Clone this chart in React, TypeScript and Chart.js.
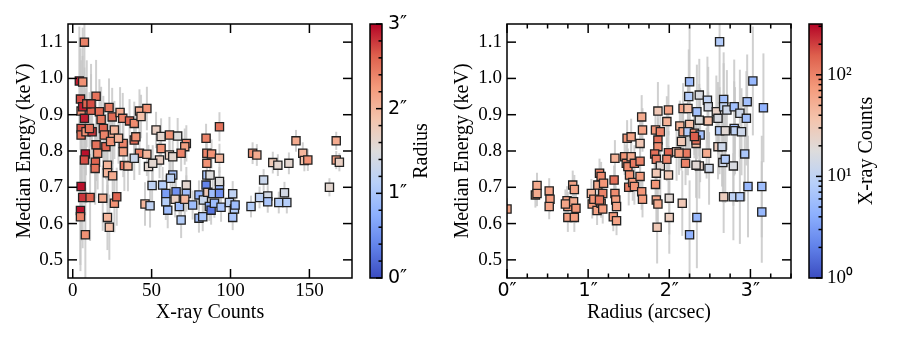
import React, { useEffect, useRef } from "react";
import { Chart, registerables } from "chart.js";

Chart.register(...registerables);
Chart.defaults.color = "#000";

const SERIF = "'Liberation Serif', 'Times New Roman', serif";
const SANS = "'DejaVu Sans', sans-serif";

// ---------- Left panel: X-ray counts vs median energy, coloured by radius ----------
const leftCounts = [
  7.4, 4.2, 6.3, 4.9, 5.3, 7.4, 14.8, 11.6, 16.9, 18, 23, 25, 30, 31.7, 36, 39, 42.3, 47, 43.3,
  5.3, 5.3, 8.4, 12.3, 10.6, 19.4, 20, 25.3, 26.4, 14.8, 21, 24, 32, 29, 39, 40,
  8, 7.4, 15.8, 14.4, 14.2, 22, 22, 25.3, 32, 32.7, 35, 42.3, 39, 47, 48,
  52.8, 56, 61.3, 66.5, 72, 71, 56, 61.3, 63.4, 55, 50.7, 68.7, 63.4, 50.3, 57, 62,
  59, 59, 60.2, 65.5, 64.9, 67.6, 72, 72, 71, 68.7, 76, 80, 80, 82.4, 82.8, 84.5, 85, 85.6, 87,
  84.5, 85, 88, 85, 93, 93, 88.7, 86.6, 87.7, 89.8, 93, 93, 93, 94,
  99.3, 101.4, 102.5, 101.4, 102.9, 113, 114, 116.7, 118.4, 121, 123.6, 123.6, 126.8, 130, 130.6,
  134.2, 135.7, 137, 141.5, 145.8, 146.8, 149, 162.7, 167, 167, 169,
  5.3, 6.3, 11, 4.9, 4.9, 8, 19, 22, 23.2, 26.4, 27.9, 45.8, 49, 6.3, 8.9, 11.6,
];
const leftEnergy = [
  1.1, 0.993, 0.99, 0.943, 0.91, 0.89, 0.951, 0.912, 0.908, 0.887, 0.92, 0.894, 0.906, 0.89, 0.883, 0.876, 0.91, 0.917, 0.895,
  0.862, 0.844, 0.853, 0.853, 0.862, 0.862, 0.844, 0.844, 0.858, 0.817, 0.812, 0.826, 0.821, 0.835, 0.83, 0.839,
  0.792, 0.775, 0.794, 0.769, 0.752, 0.761, 0.74, 0.732, 0.798, 0.76, 0.759, 0.794, 0.78, 0.791, 0.757,
  0.858, 0.84, 0.844, 0.841, 0.821, 0.812, 0.807, 0.789, 0.784, 0.775, 0.766, 0.794, 0.734, 0.705, 0.706, 0.725,
  0.683, 0.66, 0.637, 0.688, 0.667, 0.647, 0.706, 0.683, 0.667, 0.61, 0.651, 0.679, 0.615, 0.619, 0.665, 0.706, 0.734, 0.686, 0.734,
  0.835, 0.794, 0.792, 0.766, 0.867, 0.78, 0.683, 0.647, 0.637, 0.656, 0.706, 0.683, 0.716, 0.645,
  0.658, 0.682, 0.64, 0.617, 0.651, 0.647, 0.794, 0.789, 0.672, 0.72, 0.676, 0.66, 0.768, 0.761, 0.658,
  0.685, 0.658, 0.766, 0.828, 0.794, 0.774, 0.775, 0.7, 0.828, 0.775, 0.769,
  0.702, 0.672, 0.672, 0.636, 0.619, 0.569, 0.67, 0.617, 0.59, 0.656, 0.674, 0.654, 0.649, 0.922, 0.93, 0.93,
];
const leftRadius = [
  2.4, 2.9, 2.3, 2.7, 2.3, 2.9, 2.5, 2.6, 2.55, 2.45, 2.45, 2.55, 2.1, 2.4, 2.6, 2.35, 2.1, 2.3, 1.9,
  2.7, 2.5, 2.3, 2.8, 2.5, 2.6, 2.4, 2.1, 2.0, 2.5, 2.6, 2.3, 2.4, 2.0, 2.55, 2.3,
  2.95, 2.7, 2.3, 2.6, 2.5, 2.0, 2.0, 2.1, 2.2, 2.5, 2.05, 2.4, 1.3, 2.0, 1.6,
  1.7, 1.6, 2.3, 1.5, 2.4, 2.2, 2.3, 1.7, 1.6, 1.7, 1.6, 2.4, 1.0, 1.2, 1.1, 1.2,
  0.6, 1.1, 0.9, 0.5, 1.7, 0.9, 1.6, 0.9, 2.0, 1.1, 0.9, 0.8, 0.9, 1.0, 1.3, 0.4, 1.0, 1.8, 1.5,
  2.4, 2.4, 2.3, 2.3, 2.5, 2.0, 0.9, 0.7, 0.3, 0.9, 0.8, 0.5, 1.5, 1.0,
  1.2, 1.2, 1.1, 1.0, 0.9, 1.1, 2.3, 2.1, 1.2, 1.3, 1.4, 1.0, 1.8, 1.6, 1.1,
  1.4, 1.1, 1.6, 2.1, 2.0, 1.9, 2.3, 1.6, 2.1, 2.2, 1.7,
  2.95, 2.8, 2.6, 2.95, 2.4, 2.3, 2.1, 2.0, 1.9, 2.3, 2.6, 2.0, 1.2, 2.9, 2.6, 2.7,
];
const leftErr = [
  0.15, 0.15, 0.15, 0.14, 0.14, 0.14, 0.1, 0.1, 0.09, 0.09, 0.08, 0.08, 0.07, 0.07, 0.06, 0.06, 0.06, 0.06, 0.06,
  0.14, 0.14, 0.12, 0.1, 0.1, 0.09, 0.09, 0.08, 0.08, 0.1, 0.09, 0.08, 0.07, 0.07, 0.06, 0.06,
  0.12, 0.12, 0.1, 0.1, 0.1, 0.09, 0.09, 0.08, 0.07, 0.07, 0.07, 0.06, 0.06, 0.06, 0.06,
  0.05, 0.05, 0.05, 0.05, 0.05, 0.05, 0.05, 0.05, 0.05, 0.05, 0.05, 0.05, 0.05, 0.05, 0.05, 0.05,
  0.05, 0.05, 0.05, 0.05, 0.05, 0.05, 0.05, 0.05, 0.05, 0.05, 0.04, 0.04, 0.04, 0.04, 0.04, 0.04, 0.04, 0.04, 0.04,
  0.04, 0.04, 0.04, 0.04, 0.04, 0.04, 0.04, 0.04, 0.04, 0.04, 0.04, 0.04, 0.04, 0.04,
  0.035, 0.035, 0.035, 0.035, 0.035, 0.03, 0.03, 0.03, 0.03, 0.03, 0.03, 0.03, 0.03, 0.03, 0.03,
  0.03, 0.03, 0.03, 0.03, 0.03, 0.03, 0.03, 0.025, 0.025, 0.025, 0.025,
  0.15, 0.14, 0.12, 0.15, 0.15, 0.13, 0.09, 0.09, 0.09, 0.08, 0.08, 0.06, 0.06, 0.14, 0.12, 0.11,
];

// ---------- Right panel: radius vs median energy, coloured by X-ray counts ----------
const rightRadius = [
  0.0, 0.35, 0.37, 0.37, 0.52, 0.53, 0.52, 0.74, 0.75, 0.75, 0.81, 0.83, 0.82, 0.83, 0.85, 0.72,
  1.04, 1.05, 1.07, 1.12, 1.11, 1.14, 1.16, 1.18, 1.16, 1.18, 1.19, 1.14,
  1.33, 1.32, 1.33, 1.34, 1.35, 1.31, 1.35,
  1.48, 1.53, 1.45, 1.47, 1.49, 1.53, 1.57, 1.51, 1.5, 1.55, 1.57, 1.64, 1.64, 1.66, 1.67, 1.66, 1.67, 1.64,
  1.83, 1.86, 1.89, 1.86, 1.86, 1.82, 1.84, 1.89, 1.84, 1.83, 1.84, 1.86, 1.85,
  1.99, 1.97, 1.99, 1.97, 1.99, 2.0, 2.0, 2.09, 2.17, 2.23, 2.13, 2.17, 2.15, 2.21, 2.2, 2.25, 2.23, 2.24, 2.25,
  2.31, 2.33, 2.34, 2.37, 2.37, 2.38, 2.37, 2.33, 2.47, 2.48, 2.48, 2.46, 2.49,
  2.58, 2.6, 2.62, 2.6, 2.65, 2.62, 2.67, 2.67, 2.71, 2.69, 2.66, 2.69, 2.67,
  2.8, 2.8, 2.81, 2.89, 2.87, 2.79, 2.79, 2.87, 2.96, 2.95, 2.93, 2.97, 3.03, 3.16, 3.14, 3.14,
  2.34, 2.25, 2.16, 2.12, 2.33, 2.31,
];
const rightEnergy = [
  0.64, 0.679, 0.705, 0.683, 0.69, 0.667, 0.647, 0.663, 0.647, 0.617, 0.706, 0.694, 0.66, 0.617, 0.642, 0.654,
  0.683, 0.654, 0.667, 0.706, 0.636, 0.739, 0.73, 0.683, 0.656, 0.64, 0.711, 0.665,
  0.78, 0.72, 0.683, 0.665, 0.647, 0.619, 0.608,
  0.835, 0.839, 0.784, 0.766, 0.757, 0.784, 0.766, 0.734, 0.7, 0.713, 0.702, 0.73, 0.772, 0.688, 0.667, 0.894, 0.858, 0.821,
  0.858, 0.91, 0.853, 0.83, 0.812, 0.792, 0.777, 0.759, 0.739, 0.708, 0.665, 0.654, 0.59,
  0.913, 0.881, 0.795, 0.777, 0.734, 0.67, 0.617, 0.798, 0.917, 0.917, 0.869, 0.853, 0.826, 0.794, 0.766, 0.873, 0.853, 0.95, 0.991,
  0.849, 0.821, 0.908, 0.954, 0.885, 0.844, 0.759, 0.761, 0.94, 0.922, 0.883, 0.794, 0.752,
  0.908, 0.89, 0.856, 0.812, 0.812, 1.101, 0.942, 0.922, 0.913, 0.856, 0.768, 0.777, 0.674,
  0.922, 0.862, 0.856, 0.853, 0.904, 0.759, 0.674, 0.674, 0.936, 0.89, 0.792, 0.702, 0.993, 0.919, 0.702, 0.632,
  0.617, 0.569, 0.656, 0.794, 0.83, 0.84,
];
const rightCounts = [
  63, 63, 56, 56, 63, 71, 63, 63, 79, 71, 63, 63, 56, 71, 79, 63,
  50, 71, 79, 56, 63, 100, 89, 100, 79, 71, 79, 112,
  50, 126, 89, 71, 63, 71, 63,
  79, 63, 79, 100, 89, 56, 112, 79, 112, 71, 79, 71, 100, 79, 71, 56, 63, 32,
  79, 32, 100, 126, 89, 126, 112, 20, 32, 79, 63, 56, 32,
  63, 50, 141, 100, 32, 20, 28, 32, 63, 40, 50, 63, 32, 112, 100, 40, 8, 8, 5.6,
  100, 40, 6, 16, 18, 6, 25, 20, 10, 14, 40, 56, 13,
  25, 16, 8, 28, 13, 8, 6, 10, 13, 20, 13, 8, 28,
  6, 6, 10, 13, 13, 16, 10, 8, 6, 6, 7, 5, 5, 4.5, 5.6, 5,
  5, 4.5, 32, 71, 126, 158,
];
const rightErr = [
  0.03, 0.035, 0.035, 0.035, 0.035, 0.035, 0.035, 0.04, 0.04, 0.04, 0.04, 0.04, 0.04, 0.04, 0.04, 0.04,
  0.04, 0.04, 0.04, 0.04, 0.04, 0.04, 0.04, 0.04, 0.04, 0.04, 0.04, 0.04,
  0.05, 0.04, 0.04, 0.04, 0.04, 0.04, 0.04,
  0.05, 0.05, 0.05, 0.05, 0.05, 0.05, 0.05, 0.05, 0.05, 0.05, 0.05, 0.05, 0.05, 0.05, 0.05, 0.06, 0.06, 0.07,
  0.06, 0.08, 0.06, 0.06, 0.06, 0.06, 0.06, 0.1, 0.08, 0.06, 0.06, 0.06, 0.1,
  0.07, 0.07, 0.06, 0.06, 0.08, 0.1, 0.1, 0.08, 0.07, 0.08, 0.07, 0.07, 0.08, 0.06, 0.06, 0.08, 0.12, 0.13, 0.15,
  0.06, 0.08, 0.13, 0.1, 0.1, 0.13, 0.09, 0.09, 0.12, 0.11, 0.08, 0.07, 0.1,
  0.1, 0.1, 0.12, 0.09, 0.11, 0.15, 0.13, 0.12, 0.11, 0.1, 0.11, 0.12, 0.1,
  0.13, 0.13, 0.12, 0.12, 0.12, 0.11, 0.12, 0.13, 0.13, 0.13, 0.13, 0.14, 0.15, 0.15, 0.14, 0.14,
  0.14, 0.15, 0.09, 0.06, 0.06, 0.06,
];

// ---------- Axes ----------
const energyRange = [0.45, 1.15];
const countRange = [-3, 177];
const radiusRange = [0, 3.5];
const radiusBarRange = [0, 3];
const countBarRange = [1, 316.2];

const energyTicks = [0.5, 0.6, 0.7, 0.8, 0.9, 1.0, 1.1];
const countTicks = [0, 50, 100, 150];
const radiusTicks = [0, 1, 2, 3];
const radiusMinorTicks = [0.25, 0.5, 0.75, 1.25, 1.5, 1.75, 2.25, 2.5, 2.75, 3.25, 3.5];
const radiusBarTicks = [0, 1, 2, 3];
const radiusBarMinorTicks = [0.2, 0.4, 0.6, 0.8, 1.2, 1.4, 1.6, 1.8, 2.2, 2.4, 2.6, 2.8];
const countBarTicks = [1, 10, 100];
const countBarLabels = ["10\u2070", "10\u00b9", "10\u00b2"];
const countBarMinorTicks = [2, 3, 4, 5, 6, 7, 8, 9, 20, 30, 40, 50, 60, 70, 80, 90, 200, 300];

// ---------- coolwarm colormap ----------
const CW = [
  [59, 76, 192], [97, 130, 234], [141, 176, 254], [184, 208, 249], [221, 220, 220],
  [244, 196, 173], [244, 154, 123], [222, 96, 77], [180, 4, 38],
];
function coolwarm(t: number) {
  const tt = Math.max(0, Math.min(1, t));
  const s = tt * 8;
  const i = Math.min(7, Math.floor(s));
  const f = s - i;
  const c = CW[i].map((v, k) => Math.round(v + (CW[i + 1][k] - v) * f));
  return `rgb(${c[0]},${c[1]},${c[2]})`;
}

// ---------- plugins ----------
const errorBarPlugin = {
  id: "errorBars",
  beforeDatasetsDraw(chart: any) {
    const { ctx, chartArea: a, scales } = chart;
    const ds = chart.data.datasets[0];
    if (!ds) return;
    ctx.save();
    ctx.beginPath();
    ctx.rect(a.left, a.top, a.width, a.height);
    ctx.clip();
    ctx.strokeStyle = "rgba(200,200,200,0.85)";
    ctx.lineWidth = 2;
    ds.data.forEach((p: any) => {
      const x = scales.x.getPixelForValue(p.x);
      ctx.beginPath();
      ctx.moveTo(x, scales.y.getPixelForValue(p.y - p.err));
      ctx.lineTo(x, scales.y.getPixelForValue(p.y + p.err));
      ctx.stroke();
    });
    ctx.restore();
  },
};

const framePlugin = {
  id: "frame",
  afterDraw(chart: any, _args: any, opts: any) {
    const { ctx, chartArea: a, scales } = chart;
    ctx.save();
    ctx.strokeStyle = "#000";
    ctx.lineWidth = 1.5;
    const line = (x1: number, y1: number, x2: number, y2: number) => {
      ctx.beginPath();
      ctx.moveTo(x1, y1);
      ctx.lineTo(x2, y2);
      ctx.stroke();
    };
    const xGroups = [[opts.xMajor || [], opts.major], [opts.xMinor || [], opts.minor]];
    for (const [vals, len] of xGroups) {
      for (const v of vals) {
        const x = scales.x.getPixelForValue(v);
        line(x, a.bottom, x, a.bottom - len);
        line(x, a.top, x, a.top + len);
      }
    }
    const yGroups = [[opts.yMajor || [], opts.major], [opts.yMinor || [], opts.minor]];
    for (const [vals, len] of yGroups) {
      for (const v of vals) {
        const y = scales.y.getPixelForValue(v);
        if (!opts.rightOnly) line(a.left, y, a.left + len, y);
        line(a.right, y, a.right - len, y);
      }
    }
    ctx.strokeRect(a.left, a.top, a.width, a.height);
    ctx.restore();
  },
};

const colorbarPlugin = {
  id: "colorbar",
  beforeDatasetsDraw(chart: any, _args: any, opts: any) {
    const { ctx, chartArea: a } = chart;
    ctx.save();
    const g = ctx.createLinearGradient(0, a.bottom, 0, a.top);
    CW.forEach((c, i) => g.addColorStop(i / 8, `rgb(${c[0]},${c[1]},${c[2]})`));
    ctx.fillStyle = g;
    ctx.fillRect(a.left, a.top, a.width, a.height);
    ctx.translate(opts.labelX, (a.top + a.bottom) / 2);
    ctx.rotate(-Math.PI / 2);
    ctx.font = `20px ${SERIF}`;
    ctx.fillStyle = "#000";
    ctx.textAlign = "center";
    ctx.textBaseline = "middle";
    ctx.fillText(opts.label, 0, 0);
    ctx.restore();
  },
};

const setTicks = (vals: number[]) => (s: any) => {
  s.ticks = vals.map((v) => ({ value: v }));
};

function mainConfig(opts: {
  xs: number[]; ys: number[]; errs: number[]; colors: string[];
  xRange: number[]; xTicks: number[]; xMinor: number[]; xLabel: (v: number) => string;
  xFont: string; xTitle: string; yAxisWidth: number; yTitlePad: number; padRight: number;
}) {
  return {
    type: "scatter",
    data: {
      datasets: [
        {
          data: opts.xs.map((x, i) => ({ x, y: opts.ys[i], err: opts.errs[i] })),
          pointStyle: "rect",
          pointRadius: 5.8,
          pointBackgroundColor: opts.colors,
          pointBorderColor: "#222",
          pointBorderWidth: 1.3,
        },
      ],
    },
    options: {
      responsive: false,
      animation: false,
      events: [],
      layout: { padding: { left: 0, right: opts.padRight, top: 24, bottom: 0 } },
      plugins: {
        legend: { display: false },
        tooltip: { enabled: false },
        frame: { xMajor: opts.xTicks, xMinor: opts.xMinor, yMajor: energyTicks, major: 9, minor: 4.5 },
      },
      scales: {
        x: {
          type: "linear",
          min: opts.xRange[0],
          max: opts.xRange[1],
          afterBuildTicks: setTicks(opts.xTicks),
          afterFit: (s: any) => { s.height = 64; },
          grid: { display: false, drawTicks: false },
          border: { display: false },
          ticks: {
            autoSkip: false, maxRotation: 0, padding: 2, color: "#000",
            font: { family: opts.xFont, size: 19 },
            callback: (v: any) => opts.xLabel(Number(v)),
          },
          title: {
            display: true, text: opts.xTitle, color: "#000",
            font: { family: SERIF, size: 20 }, padding: { top: 0, bottom: 17 },
          },
        },
        y: {
          type: "linear",
          min: energyRange[0],
          max: energyRange[1],
          afterBuildTicks: setTicks(energyTicks),
          afterFit: (s: any) => { s.width = opts.yAxisWidth; },
          grid: { display: false, drawTicks: false },
          border: { display: false },
          ticks: {
            autoSkip: false, padding: 5, color: "#000",
            font: { family: SERIF, size: 19 },
            callback: (v: any) => Number(v).toFixed(1),
          },
          title: {
            display: true, text: "Median Energy (keV)", color: "#000",
            font: { family: SERIF, size: 20 }, padding: { top: opts.yTitlePad, bottom: 0 },
          },
        },
      },
    },
    plugins: [errorBarPlugin, framePlugin],
  };
}

function barConfig(opts: {
  type: string; range: number[]; ticks: number[]; minor: number[]; labels: (v: number) => string;
  font: string; padLeft: number; axisWidth: number; labelX: number; label: string; tickPad: number;
}) {
  return {
    type: "scatter",
    data: { datasets: [] },
    options: {
      responsive: false,
      animation: false,
      events: [],
      layout: { padding: { left: opts.padLeft, right: 0, top: 24, bottom: 64 } },
      plugins: {
        legend: { display: false },
        tooltip: { enabled: false },
        frame: { yMajor: opts.ticks, yMinor: opts.minor, major: 6, minor: 3.5, rightOnly: true },
        colorbar: { labelX: opts.labelX, label: opts.label },
      },
      scales: {
        x: { display: false, min: 0, max: 1 },
        y: {
          type: opts.type,
          position: "right",
          min: opts.range[0],
          max: opts.range[1],
          afterBuildTicks: setTicks(opts.ticks),
          afterFit: (s: any) => { s.width = opts.axisWidth; },
          grid: { display: false, drawTicks: false },
          border: { display: false },
          ticks: {
            autoSkip: false, padding: opts.tickPad, color: "#000",
            font: { family: opts.font, size: 19 },
            callback: (v: any) => opts.labels(Number(v)),
          },
        },
      },
    },
    plugins: [colorbarPlugin, framePlugin],
  };
}

export default function App() {
  const c1 = useRef<HTMLCanvasElement>(null);
  const c2 = useRef<HTMLCanvasElement>(null);
  const c3 = useRef<HTMLCanvasElement>(null);
  const c4 = useRef<HTMLCanvasElement>(null);

  useEffect(() => {
    const charts: Chart[] = [];
    const logMax = Math.log10(countBarRange[1]);
    charts.push(
      new Chart(c1.current as any, mainConfig({
        xs: leftCounts, ys: leftEnergy, errs: leftErr,
        colors: leftRadius.map((r) => coolwarm(r / radiusBarRange[1])),
        xRange: countRange, xTicks: countTicks, xMinor: [], xLabel: (v) => String(v),
        xFont: SERIF, xTitle: "X-ray Counts", yAxisWidth: 68, yTitlePad: 13, padRight: 8,
      }) as any)
    );
    charts.push(
      new Chart(c2.current as any, barConfig({
        type: "linear", range: radiusBarRange, ticks: radiusBarTicks, minor: radiusBarMinorTicks,
        labels: (v) => `${v}\u2033`, font: SANS, padLeft: 10, axisWidth: 68, labelX: 62,
        label: "Radius", tickPad: 6,
      }) as any)
    );
    charts.push(
      new Chart(c3.current as any, mainConfig({
        xs: rightRadius, ys: rightEnergy, errs: rightErr,
        colors: rightCounts.map((c) => coolwarm(Math.log10(c) / logMax)),
        xRange: radiusRange, xTicks: radiusTicks, xMinor: radiusMinorTicks, xLabel: (v) => `${v}\u2033`,
        xFont: SANS, xTitle: "Radius (arcsec)", yAxisWidth: 67, yTitlePad: 11, padRight: 9,
      }) as any)
    );
    charts.push(
      new Chart(c4.current as any, barConfig({
        type: "logarithmic", range: countBarRange, ticks: countBarTicks, minor: countBarMinorTicks,
        labels: (v) => countBarLabels[countBarTicks.indexOf(v)] ?? "", font: SERIF, padLeft: 9,
        axisWidth: 78, labelX: 67, label: "X-ray Counts", tickPad: 5,
      }) as any)
    );
    return () => charts.forEach((c) => c.destroy());
  }, []);

  const pos = (left: number): React.CSSProperties => ({ position: "absolute", left, top: 0 });
  return (
    <div style={{ position: "fixed", left: 0, top: 0, width: 900, height: 342, background: "#fff" }}>
      <canvas ref={c1} width={360} height={342} style={pos(0)} />
      <canvas ref={c2} width={90} height={342} style={pos(360)} />
      <canvas ref={c3} width={360} height={342} style={pos(440)} />
      <canvas ref={c4} width={100} height={342} style={pos(800)} />
    </div>
  );
}
